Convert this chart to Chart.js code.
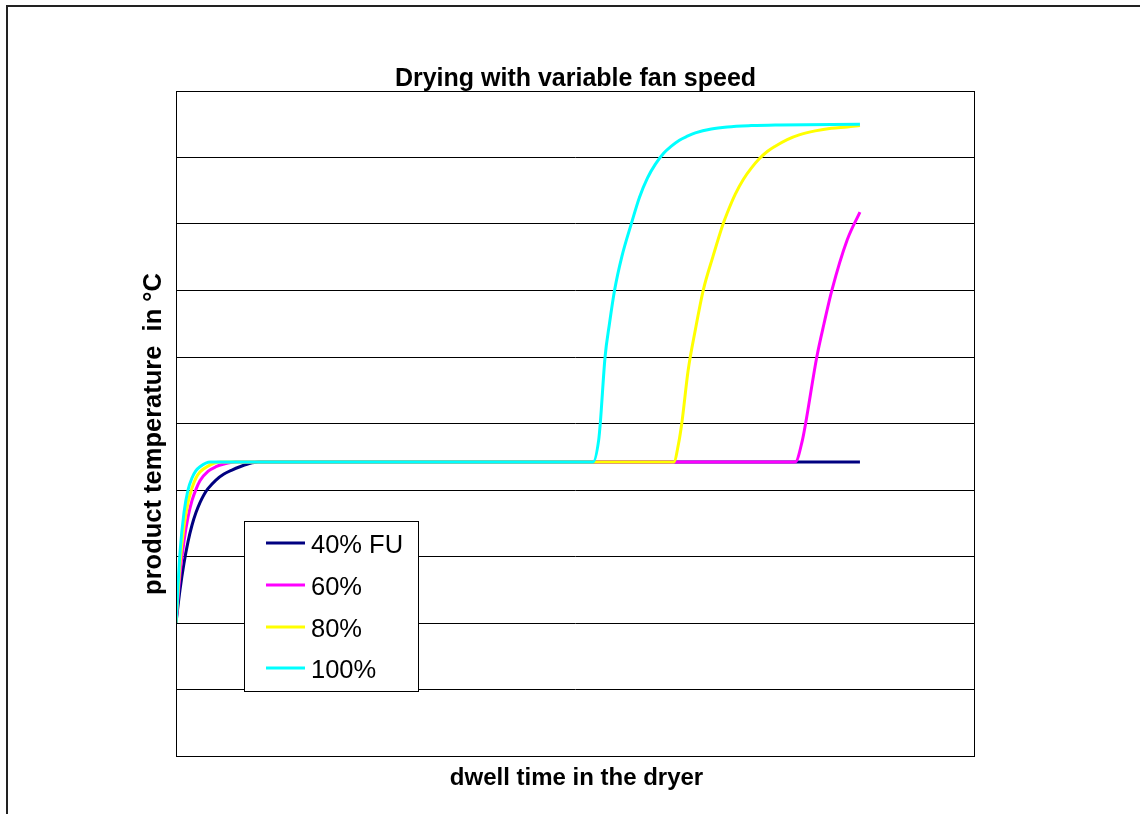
<!DOCTYPE html>
<html><head><meta charset="utf-8">
<script src="https://cdn.jsdelivr.net/npm/chart.js@4/dist/chart.umd.min.js"></script>
<style>html,body{margin:0;padding:0;background:#fff}canvas{display:block}</style>
</head><body>
<canvas id="c" width="1140" height="814"></canvas>
<script>
const chartTitle = 'Drying with variable fan speed';
const xAxisTitle = 'dwell time in the dryer';
const yAxisTitle = 'product temperature  in \u00B0C';
const seriesNames = ['40% FU', '60%', '80%', '100%'];
const seriesColors = ['#000080', '#FF00FF', '#FFFF00', '#00FFFF'];

// dwell time (arbitrary units, axis unlabeled) and product temperature (arbitrary units)
const fu40Time = [0,0.5,1,1.5,2,2.5,3,3.5,4,5,6,7,8,9,10.3,20,40,60,77.5,85.6];
const fu40Temp = [20,25.0,29.0,32.2,34.7,36.6,38.1,39.3,40.2,41.5,42.4,43.0,43.5,43.9,44.2,44.2,44.2,44.2,44.2,44.2];

const fu60Time = [0,0.5,1,1.5,2,2.5,3,4,5,6,7.4,20,40,60,77.5,78.4,78.8,80.2,81.1,82.1,84.0,85.6];
const fu60Temp = [20,27.3,32.3,35.9,38.4,40.1,41.4,42.8,43.5,43.9,44.2,44.2,44.2,44.2,44.2,47.5,50.0,60.0,65.0,70.1,77.6,81.8];

const fu80Time = [0,0.5,1,1.5,2,2.5,3,4,5.5,20,40,62.3,62.9,63.3,64.1,65.0,66.0,67.2,68.5,69,70,71,72,73,74,75,76.5,78,80,82,84,85.6];
const fu80Temp = [20,28.9,34.5,38.1,40.3,41.8,42.7,43.6,44.2,44.2,44.2,44.2,47.0,50.0,58.0,64.1,70.1,75.1,80.1,81.7,84.5,86.7,88.4,89.8,90.9,91.7,92.7,93.4,94.0,94.4,94.6,94.8];

const fu100Time = [0,0.5,1,1.5,2,2.5,3,4.3,20,40,52.2,52.9,53.1,53.7,54.25,54.9,55.8,57,58,59,60,61,62,63,64,65,67,69,72,75,85.6];
const fu100Temp = [20,30.6,36.6,40.0,41.8,42.9,43.5,44.2,44.2,44.2,44.2,47.5,50.0,60.0,65.0,70.1,75.1,80.1,84.0,86.9,89.0,90.6,91.7,92.6,93.2,93.7,94.3,94.6,94.8,94.9,95.0];

const yGridValues = [0,10,20,30,40,50,60,70,80,90,100];

const seriesTimes = [fu40Time, fu60Time, fu80Time, fu100Time];
const seriesTemps = [fu40Temp, fu60Temp, fu80Temp, fu100Temp];

const datasets = seriesNames.map((name, i) => ({
  label: name,
  data: seriesTimes[i].map((t, j) => ({x: t, y: seriesTemps[i][j]})),
  borderColor: seriesColors[i],
  backgroundColor: seriesColors[i],
  borderWidth: 3,
  pointRadius: 0,
  pointHoverRadius: 0,
  fill: false,
  cubicInterpolationMode: 'monotone',
  order: seriesNames.length - i
}));

const FONT = '"Liberation Sans", Arial, Helvetica, sans-serif';

const decorPlugin = {
  id: 'decor',
  beforeDraw(chart) {
    const ctx = chart.ctx;
    ctx.save();
    ctx.fillStyle = '#ffffff';
    ctx.fillRect(0, 0, chart.width, chart.height);
    ctx.restore();
  },
  afterDatasetsDraw(chart) {
    const ctx = chart.ctx;
    const a = chart.chartArea;
    ctx.save();
    ctx.strokeStyle = '#000000';
    ctx.lineWidth = 1;
    ctx.strokeRect(Math.round(a.left) + 0.5, Math.round(a.top) + 0.5,
                   Math.round(a.right - a.left) - 1, Math.round(a.bottom - a.top));
    ctx.restore();
  },
  afterDraw(chart) {
    const ctx = chart.ctx;
    const a = chart.chartArea;
    ctx.save();
    // outer frame
    ctx.fillStyle = '#222222';
    ctx.fillRect(6, 5, chart.width, 2);
    ctx.fillRect(6, 5, 2, chart.height);

    ctx.fillStyle = '#000000';
    ctx.textAlign = 'center';
    ctx.textBaseline = 'alphabetic';
    // title
    ctx.font = 'bold 25px ' + FONT;
    ctx.fillText(chartTitle, (a.left + a.right) / 2, 86);
    // x axis title
    ctx.font = 'bold 24px ' + FONT;
    ctx.fillText(xAxisTitle, (a.left + a.right) / 2 + 1, 785);
    // y axis title
    ctx.save();
    ctx.font = 'bold 25.5px ' + FONT;
    ctx.translate(161, 434);
    ctx.rotate(-Math.PI / 2);
    ctx.fillText(yAxisTitle, 0, 0);
    ctx.restore();

    // legend
    const lx = 244, ly = 521, lw = 174, lh = 170;
    ctx.fillStyle = '#ffffff';
    ctx.fillRect(lx, ly, lw, lh);
    ctx.strokeStyle = '#000000';
    ctx.lineWidth = 1;
    ctx.strokeRect(lx + 0.5, ly + 0.5, lw, lh);
    const rowY = [543, 585, 627, 668];
    ctx.font = '25.5px ' + FONT;
    ctx.textAlign = 'left';
    ctx.textBaseline = 'alphabetic';
    seriesNames.forEach((name, i) => {
      ctx.strokeStyle = seriesColors[i];
      ctx.lineWidth = 3;
      ctx.beginPath();
      ctx.moveTo(266, rowY[i]);
      ctx.lineTo(305, rowY[i]);
      ctx.stroke();
      ctx.fillStyle = '#000000';
      ctx.fillText(name, 311, rowY[i] + 10);
    });
    ctx.restore();
  }
};

new Chart(document.getElementById('c'), {
  type: 'line',
  data: { datasets },
  options: {
    responsive: false,
    animation: false,
    devicePixelRatio: 1,
    layout: { padding: { left: 176, top: 91, right: 165, bottom: 58 } },
    plugins: { legend: { display: false }, title: { display: false }, tooltip: { enabled: false } },
    scales: {
      x: {
        type: 'linear', min: 0, max: 100,
        display: false
      },
      y: {
        type: 'linear', min: 0, max: 100,
        afterBuildTicks(scale) { scale.ticks = yGridValues.map(v => ({value: v})); },
        ticks: { display: false },
        grid: { color: '#000000', lineWidth: 1, drawTicks: false },
        border: { display: false }
      }
    }
  },
  plugins: [decorPlugin]
});
</script>
</body></html>
